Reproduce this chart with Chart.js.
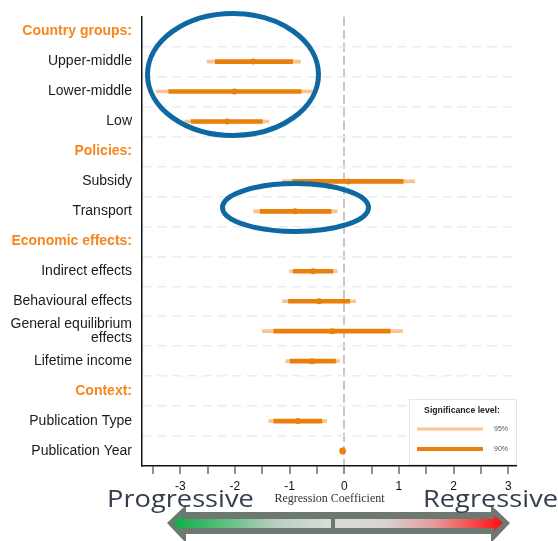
<!DOCTYPE html>
<html>
<head>
<meta charset="utf-8">
<script src="https://cdn.jsdelivr.net/npm/chart.js@4.4.1/dist/chart.umd.min.js"></script>
<style>
  html, body { margin: 0; padding: 0; background: #fff; }
  .wrap { position: relative; width: 558px; height: 541px; overflow: hidden; }
  #coefChart { position: absolute; left: 0; top: 0; }
  .overlay { position: absolute; left: 0; top: 0; }
  .direction {
    position: absolute;
    font-family: "Open Sans";
    font-size: 24px;
    line-height: 24px;
    color: #333d4c;
    white-space: nowrap;
    transform: scaleX(1.135);
    transform-origin: left top;
  }
</style>
</head>
<body>
<div class="wrap">
  <canvas id="coefChart" width="558" height="541"></canvas>
  <svg class="overlay" width="558" height="541">
    <defs>
      <linearGradient id="towardProgressive" x1="173" y1="0" x2="331" y2="0" gradientUnits="userSpaceOnUse">
        <stop offset="0" stop-color="#0fae48"/>
        <stop offset="0.2" stop-color="#3cb867"/>
        <stop offset="0.65" stop-color="#b8cfc0"/>
        <stop offset="1" stop-color="#d9dcd9"/>
      </linearGradient>
      <linearGradient id="towardRegressive" x1="335" y1="0" x2="503" y2="0" gradientUnits="userSpaceOnUse">
        <stop offset="0" stop-color="#d9dcd9"/>
        <stop offset="0.3" stop-color="#d9d3d3"/>
        <stop offset="0.6" stop-color="#e49999"/>
        <stop offset="1" stop-color="#ff0d0d"/>
      </linearGradient>
    </defs>
    <ellipse cx="233" cy="74.5" rx="85.5" ry="61" fill="none" stroke="#0e69a3" stroke-width="5"/>
    <ellipse cx="295.5" cy="207.5" rx="73" ry="24" fill="none" stroke="#0e69a3" stroke-width="5"/>
    <polygon points="167,523 186,505 186,512 491,512 491,505 510,523 491,543 491,534 186,534 186,543" fill="#6c7870"/>
    <polygon points="173,523 182,515 182,519 331,519 331,528 182,528 182,531" fill="url(#towardProgressive)"/>
    <polygon points="335,519 494,519 494,515 503,523 494,531 494,528 335,528" fill="url(#towardRegressive)"/>
  </svg>
  <div class="direction" style="left:107px; top:486px;">Progressive</div>
  <div class="direction" style="left:423px; top:486px;">Regressive</div>
</div>
<script>
const categories = [
  "Country groups:", "Upper-middle", "Lower-middle", "Low",
  "Policies:", "Subsidy", "Transport",
  "Economic effects:", "Indirect effects", "Behavioural effects", ["General equilibrium", "effects"], "Lifetime income",
  "Context:", "Publication Type", "Publication Year"
];
const groupHeaders = ["Country groups:", "Policies:", "Economic effects:", "Context:"];

const coefficients = [null, -1.66, -2.01, -2.14, null, 0.07, -0.90, null, -0.57, -0.46, -0.22, -0.59, null, -0.85, -0.03];
const ci90Low = [null, -2.36, -3.21, -2.80, null, -0.945, -1.54, null, -0.93, -1.02, -1.29, -0.99, null, -1.29, -0.04];
const ci90High = [null, -0.945, -0.79, -1.50, null, 1.08, -0.24, null, -0.21, 0.10, 0.84, -0.16, null, -0.41, -0.02];
const ci95Low = [null, -2.51, -3.44, -2.92, null, -1.13, -1.66, null, -1.00, -1.13, -1.50, -1.07, null, -1.38, -0.045];
const ci95High = [null, -0.80, -0.56, -1.38, null, 1.29, -0.13, null, -0.13, 0.21, 1.07, -0.09, null, -0.32, -0.015];

const orange = "#e8800b";
const lightOrange = "#f8c48f";
const headerOrange = "#f7861e";

function intervals(lows, highs) {
  return lows.map((lo, i) => (lo === null ? null : [lo, highs[i]]));
}

function isHeader(index) {
  return groupHeaders.includes(categories[index]);
}

const significanceLegend = {
  id: "significanceLegend",
  afterDraw(chart) {
    const { ctx, chartArea } = chart;
    const boxW = 108;
    const boxH = 66;
    const left = chartArea.right - boxW;
    const top = chartArea.bottom - boxH - 1;
    const entries = [chart.data.datasets[2], chart.data.datasets[1]];

    ctx.save();
    ctx.fillStyle = "#fff";
    ctx.fillRect(left, top, boxW, boxH);
    ctx.strokeStyle = "#e1e8f0";
    ctx.lineWidth = 1;
    ctx.strokeRect(left + 0.5, top + 0.5, boxW - 1, boxH - 1);

    ctx.fillStyle = "#222";
    ctx.font = "bold 8.7px 'Liberation Sans'";
    ctx.textAlign = "center";
    ctx.textBaseline = "middle";
    ctx.fillText("Significance level:", left + 53, top + 12);

    ctx.font = "7px 'Liberation Sans'";
    ctx.textAlign = "left";
    entries.forEach((ds, i) => {
      const y = top + 30 + i * 20;
      ctx.strokeStyle = ds.backgroundColor;
      ctx.lineWidth = ds.barThickness;
      ctx.beginPath();
      ctx.moveTo(left + 8, y);
      ctx.lineTo(left + 74, y);
      ctx.stroke();
      ctx.fillStyle = "#555";
      ctx.fillText(ds.label, left + 85, y);
    });
    ctx.restore();
  }
};

Chart.defaults.font.family = "'Liberation Sans'";

new Chart(document.getElementById("coefChart"), {
  type: "bar",
  data: {
    labels: categories,
    datasets: [
      {
        type: "line",
        label: "Coefficient",
        data: coefficients,
        indexAxis: "y",
        showLine: false,
        pointRadius: (ctx) => (ctx.dataIndex === categories.length - 1 ? 3.4 : 3),
        pointBackgroundColor: orange,
        pointBorderWidth: 0,
        order: 0
      },
      {
        label: "90%",
        data: intervals(ci90Low, ci90High),
        backgroundColor: orange,
        barThickness: 4,
        grouped: false,
        order: 1
      },
      {
        label: "95%",
        data: intervals(ci95Low, ci95High),
        backgroundColor: lightOrange,
        barThickness: 3,
        grouped: false,
        order: 2
      }
    ]
  },
  options: {
    indexAxis: "y",
    responsive: false,
    animation: false,
    devicePixelRatio: 1,
    layout: { padding: { top: 4, right: 41, left: 0, bottom: 0 } },
    plugins: {
      legend: { display: false },
      tooltip: { enabled: false }
    },
    scales: {
      x: {
        type: "linear",
        min: -3.7,
        max: 3.16,
        afterFit: (scale) => { scale.height = 75; },
        border: { color: "#111", width: 1.5, dash: [9, 4] },
        grid: {
          color: (ctx) => (ctx.tick && ctx.tick.value === 0 ? "#c6c6c6" : "rgba(0,0,0,0)"),
          lineWidth: (ctx) => (ctx.tick && ctx.tick.value === 0 ? 2 : 0),
          tickColor: "#222",
          tickWidth: 1,
          tickBorderDash: [],
          tickLength: 8
        },
        ticks: {
          stepSize: 0.5,
          includeBounds: false,
          autoSkip: false,
          maxRotation: 0,
          padding: 5,
          color: "#111",
          font: { size: 12 },
          callback: (value) => (Number.isInteger(value) ? value : "")
        },
        title: {
          display: true,
          text: "Regression Coefficient",
          color: "#333",
          font: { family: "'Liberation Serif'", size: 12 },
          padding: { top: 0, bottom: 35 }
        }
      },
      y: {
        type: "category",
        offset: true,
        afterFit: (scale) => { scale.width = 142; },
        border: { color: "#111", width: 1.5, dash: [9, 6] },
        grid: {
          offset: true,
          drawTicks: false,
          color: (ctx) => (ctx.type === "tick" && ctx.index > 0 ? "#e6edf5" : "rgba(0,0,0,0)"),
          lineWidth: 1.5
        },
        ticks: {
          autoSkip: false,
          padding: 10,
          color: (ctx) => (isHeader(ctx.index) ? headerOrange : "#1b1b1b"),
          font: (ctx) => ({
            size: 14,
            weight: isHeader(ctx.index) ? "bold" : "normal",
            lineHeight: 0.95
          })
        }
      }
    }
  },
  plugins: [significanceLegend]
});
</script>
</body>
</html>
